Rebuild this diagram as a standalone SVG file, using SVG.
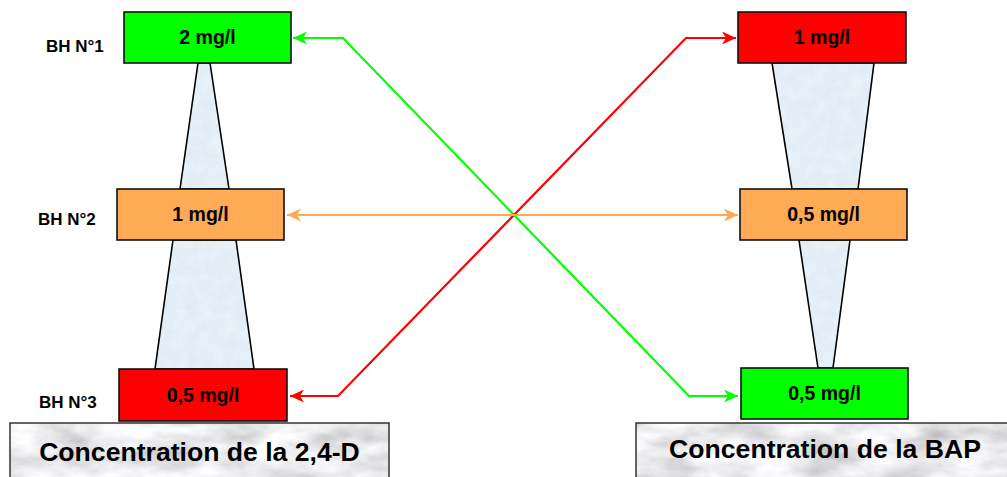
<svg xmlns="http://www.w3.org/2000/svg" width="1007" height="477" viewBox="0 0 1007 477">
<defs>
<style>
.box{stroke:#111;stroke-width:1.6}
.trap{fill:none;stroke:#000;stroke-width:1.6}
.t{font-family:"Liberation Sans",Arial,sans-serif;font-weight:bold;fill:#000}
.val{font-size:19.5px;text-anchor:middle}
.lbl{font-size:17px}
.ban{font-size:26.6px;text-anchor:middle}
.con{fill:none;stroke-width:2.2}
</style>
<filter id="marble" x="0" y="0" width="100%" height="100%">
<feTurbulence type="fractalNoise" baseFrequency="0.02 0.045" numOctaves="4" seed="7" result="n"/>
<feColorMatrix in="n" type="matrix" values="0.75 0 0 0 0.45  0.75 0 0 0 0.45  0.75 0 0 0 0.47  0 0 0 0 1" result="g"/>
<feComposite in="g" in2="SourceGraphic" operator="in"/>
</filter>
<filter id="ice" x="0" y="0" width="100%" height="100%">
<feTurbulence type="fractalNoise" baseFrequency="0.08" numOctaves="3" seed="2" result="n"/>
<feColorMatrix in="n" type="matrix" values="0.12 0 0 0 0.72  0.12 0 0 0 0.80  0.08 0 0 0 0.89  0 0 0 0 1" result="g"/>
<feComposite in="g" in2="SourceGraphic" operator="in"/>
</filter>
<marker id="ag" markerUnits="userSpaceOnUse" markerWidth="15" markerHeight="13" refX="14" refY="6.5" orient="auto-start-reverse"><path d="M0,0 L14,6.5 L0,13 L4,6.5 Z" fill="#00FF00"/></marker>
<marker id="ar" markerUnits="userSpaceOnUse" markerWidth="15" markerHeight="13" refX="14" refY="6.5" orient="auto-start-reverse"><path d="M0,0 L14,6.5 L0,13 L4,6.5 Z" fill="#FF0000"/></marker>
<marker id="ao" markerUnits="userSpaceOnUse" markerWidth="15" markerHeight="13" refX="14" refY="6.5" orient="auto-start-reverse"><path d="M0,0 L14,6.5 L0,13 L4,6.5 Z" fill="#FFA850"/></marker>
</defs>
<rect width="1007" height="477" fill="#fff"/>

<g id="trapezoids">
<polygon points="198,63 210,63 229,189 180,189" fill="#D8E6F3" filter="url(#ice)"/>
<polygon class="trap" points="198,63 210,63 229,189 180,189"/>
<polygon points="173,240 236,240 254,369 155,369" fill="#D8E6F3" filter="url(#ice)"/>
<polygon class="trap" points="173,240 236,240 254,369 155,369"/>
<polygon points="772,63 874,63 858,189 792,189" fill="#D8E6F3" filter="url(#ice)"/>
<polygon class="trap" points="772,63 874,63 858,189 792,189"/>
<polygon points="799,240 850,240 833,368 818,368" fill="#D8E6F3" filter="url(#ice)"/>
<polygon class="trap" points="799,240 850,240 833,368 818,368"/>
</g>

<g id="connectors">
<path class="con" stroke="#00FF00" d="M293,38 L343,38 L689,396 L738,396" marker-start="url(#ag)" marker-end="url(#ag)"/>
<path class="con" stroke="#FF0000" d="M290,396 L338,396 L686,38 L736,38" marker-start="url(#ar)" marker-end="url(#ar)"/>
<path class="con" stroke="#FFA850" d="M287,215 L738,215" marker-start="url(#ao)" marker-end="url(#ao)"/>
</g>

<g id="L1">
<rect class="box" x="124" y="12" width="167" height="51" fill="#00FF00"/>
<text class="t val" x="207.5" y="44">2 mg/l</text>
<text class="t lbl" x="46" y="52">BH N°1</text>
</g>
<g id="L2">
<rect class="box" x="117" y="189" width="167" height="51" fill="#FFAA55"/>
<text class="t val" x="200.5" y="221">1 mg/l</text>
<text class="t lbl" x="38" y="225">BH N°2</text>
</g>
<g id="L3">
<rect class="box" x="119" y="369" width="168" height="52" fill="#FF0000"/>
<text class="t val" x="203" y="402">0,5 mg/l</text>
<text class="t lbl" x="39" y="408">BH N°3</text>
</g>
<g id="R1">
<rect class="box" x="738" y="12" width="168" height="51" fill="#FF0000"/>
<text class="t val" x="822" y="44">1 mg/l</text>
</g>
<g id="R2">
<rect class="box" x="740" y="189" width="167" height="51" fill="#FFAA55"/>
<text class="t val" x="823.5" y="221">0,5 mg/l</text>
</g>
<g id="R3">
<rect class="box" x="741" y="368" width="167" height="51" fill="#00FF00"/>
<text class="t val" x="824.5" y="400">0,5 mg/l</text>
</g>

<g id="banner-left">
<rect x="10" y="423" width="379" height="60" fill="#ddd" filter="url(#marble)"/>
<rect x="10" y="423" width="379" height="60" fill="none" stroke="#333" stroke-width="1.5"/>
<text class="t ban" x="199.5" y="461">Concentration de la 2,4-D</text>
</g>
<g id="banner-right">
<rect x="636" y="423" width="380" height="60" fill="#ddd" filter="url(#marble)"/>
<rect x="636" y="423" width="380" height="60" fill="none" stroke="#333" stroke-width="1.5"/>
<text class="t ban" x="825" y="458">Concentration de la BAP</text>
</g>
</svg>
